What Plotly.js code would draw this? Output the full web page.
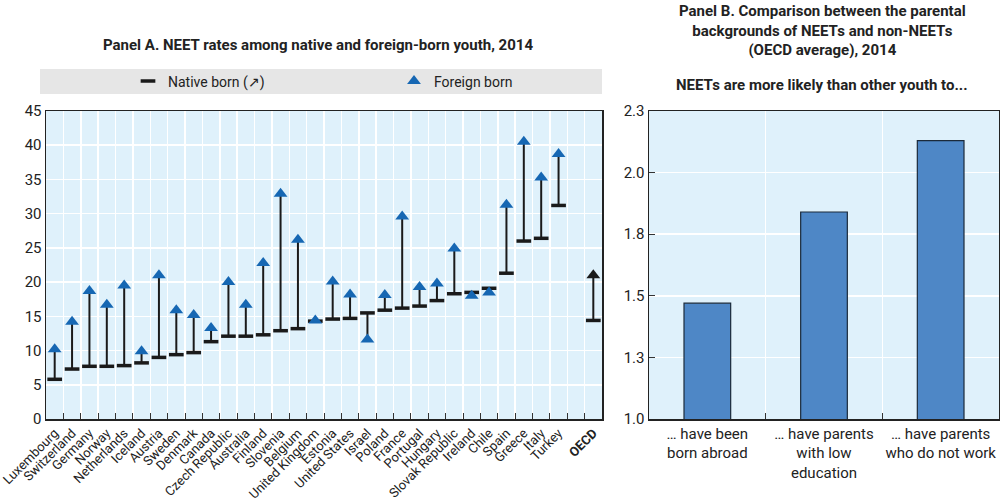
<!DOCTYPE html>
<html>
<head>
<meta charset="utf-8">
<script src="https://cdn.plot.ly/plotly-3.0.1.min.js"></script>
<style>html,body{margin:0;padding:0;background:#fff;}#chart{width:1000px;height:501px;}</style>
</head>
<body>
<div id="chart"></div>
<script>
// ---- Panel A data ----
const countries = ["Luxembourg","Switzerland","Germany","Norway","Netherlands","Iceland","Austria","Sweden","Denmark","Canada","Czech Republic","Australia","Finland","Slovenia","Belgium","United Kingdom","Estonia","United States","Israel","Poland","France","Portugal","Hungary","Slovak Republic","Ireland","Chile","Spain","Greece","Italy","Turkey"," ","OECD"];
const nativeBorn = [5.8,7.3,7.7,7.7,7.8,8.2,9.0,9.4,9.7,11.3,12.1,12.1,12.3,12.9,13.2,14.3,14.6,14.7,15.5,15.9,16.2,16.5,17.3,18.3,18.5,19.1,21.3,26.0,26.4,31.2,null,14.4];
const foreignBorn = [10.2,14.2,18.7,16.7,19.5,9.9,21.0,15.9,15.2,13.3,20.0,16.7,22.8,32.9,26.2,14.4,20.1,18.2,11.6,18.1,29.6,19.3,19.8,24.9,18.0,18.5,31.3,40.5,35.3,38.7,null,21.0];

// ---- Panel B data ----
const panelBCats = ["… have been<br>born abroad","… have parents<br>with low<br>education","… have parents<br>who do not work"];
const panelBValues = [1.47,1.84,2.13];
const panelBTicks = [1.0,1.25,1.5,1.75,2.0,2.25];

const FONT = "Roboto, 'Liberation Sans', sans-serif";
const BLUE = "#1667b3";
const DARK = "#1a1a1a";

const plus = nativeBorn.map((n,i)=> (n==null||foreignBorn[i]==null)?0:Math.max(foreignBorn[i]-n,0));
const minus = nativeBorn.map((n,i)=> (n==null||foreignBorn[i]==null)?0:Math.max(n-foreignBorn[i],0));
const triColors = countries.map(c => c === "OECD" ? DARK : BLUE);
const tickText = countries.map(c => c === "OECD" ? "<b>OECD</b>" : c);

const traces = [
  {
    type:"scatter", mode:"markers", name:"Native born (↗)",
    x:countries, y:nativeBorn, xaxis:"x", yaxis:"y",
    marker:{symbol:"line-ew", size:10.5, line:{width:3.5, color:DARK}, color:DARK},
    error_y:{type:"data", symmetric:false, array:plus, arrayminus:minus, width:0, thickness:2, color:DARK},
    hoverinfo:"x+y"
  },
  {
    type:"scatter", mode:"markers", name:"Foreign born",
    x:countries, y:foreignBorn, xaxis:"x", yaxis:"y",
    marker:{symbol:"triangle-up", size:12, color:triColors, line:{width:0}},
    hoverinfo:"x+y"
  },
  {
    type:"bar", x:panelBCats, y:panelBValues, xaxis:"x2", yaxis:"y2",
    width:0.4,
    marker:{color:"#4e87c6", line:{color:"#1b2a3a", width:1.2}},
    showlegend:false, hoverinfo:"y"
  }
];

const domA = [0, (602-46)/953];
const domB = [(649-46)/953, 1];
const pyTop = (px) => (419 - px)/308;

const layout = {
  width:1000, height:501,
  margin:{l:46, r:1, t:111, b:82},
  paper_bgcolor:"#fff",
  plot_bgcolor:"#dff1fb",
  font:{family:FONT, size:14, color:"#222"},
  showlegend:true,
  legend:{orientation:"h", x:(128-46)/953, xanchor:"left", y:pyTop(81.5), yanchor:"middle",
          bgcolor:"rgba(0,0,0,0)", font:{family:FONT, size:14, color:"#222"},
          entrywidth:221, entrywidthmode:"pixels", itemclick:false, itemdoubleclick:false},
  xaxis:{domain:domA, type:"category", categoryorder:"array", categoryarray:countries,
         tickvals:countries, ticktext:tickText,
         tickson:"boundaries", ticks:"inside", ticklen:6, tickcolor:"#333",
         showgrid:true, gridcolor:"#ffffff", gridwidth:1.5,
         showline:true, mirror:true, linecolor:"#222", linewidth:1.5,
         tickangle:-45, tickfont:{family:FONT, size:13, color:"#222"}, range:[-0.5,31.5], fixedrange:true},
  yaxis:{domain:[0,1], range:[0,45], dtick:5, tick0:0, showgrid:true, gridcolor:"#ffffff", gridwidth:1.5,
         zeroline:false, showline:true, mirror:true, linecolor:"#222", linewidth:1.5, ticks:"",
         tickfont:{family:FONT, size:15, color:"#222"}, fixedrange:true},
  xaxis2:{domain:domB, anchor:"y2", type:"category",
         tickson:"boundaries", ticks:"inside", ticklen:6, tickcolor:"#333",
         showgrid:true, gridcolor:"#ffffff", gridwidth:1.5,
         showline:true, mirror:true, linecolor:"#222", linewidth:1.5,
         tickfont:{family:FONT, size:15, color:"#222"}, fixedrange:true},
  yaxis2:{domain:[0,1], anchor:"x2", range:[1,2.25], tickvals:panelBTicks,
         tickformat:".1f",
         showgrid:true, gridcolor:"#ffffff", gridwidth:1.5, zeroline:false,
         showline:true, mirror:true, linecolor:"#222", linewidth:1.5,
         ticks:"inside", ticklen:6, tickcolor:"#333",
         tickfont:{family:FONT, size:15, color:"#222"}, fixedrange:true},
  shapes:[
    {type:"rect", xref:"paper", yref:"paper", x0:(40-46)/953, x1:domA[1], y0:pyTop(94), y1:pyTop(69),
     fillcolor:"#e6e6e6", line:{width:0}, layer:"below"}
  ],
  annotations:[
    {xref:"paper", yref:"paper", x:(318-46)/953, y:pyTop(45), xanchor:"center", yanchor:"middle", showarrow:false,
     text:"<b>Panel A. NEET rates among native and foreign-born youth, 2014</b>", font:{family:FONT, size:15, color:"#222"}},
    {xref:"paper", yref:"paper", x:(822-46)/953, y:pyTop(30), xanchor:"center", yanchor:"middle", showarrow:false,
     text:"<b>Panel B. Comparison between the parental<br>backgrounds of NEETs and non-NEETs<br>(OECD average), 2014</b>", font:{family:FONT, size:15, color:"#222"}},
    {xref:"paper", yref:"paper", x:(822-46)/953, y:pyTop(85), xanchor:"center", yanchor:"middle", showarrow:false,
     text:"<b>NEETs are more likely than other youth to...</b>", font:{family:FONT, size:15, color:"#222"}}
  ]
};

Plotly.newPlot("chart", traces, layout, {displayModeBar:false, staticPlot:true});
</script>
</body>
</html>
